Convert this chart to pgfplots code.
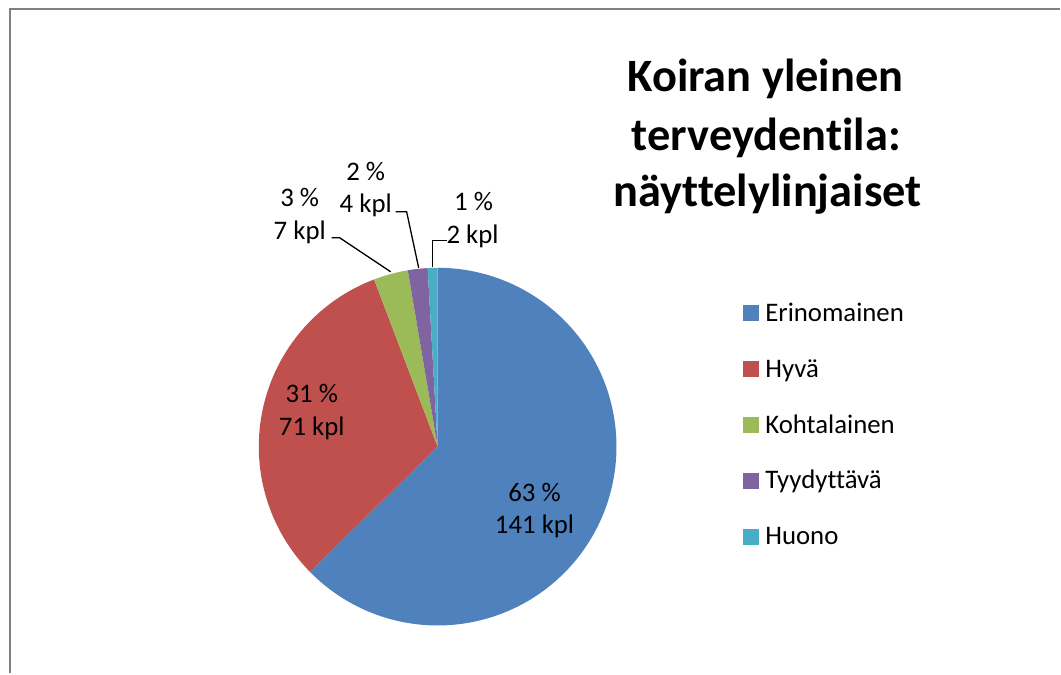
\documentclass[border=0pt]{standalone}
\usepackage{pgfplots}
\pgfplotsset{compat=1.18}
\usepackage{fontspec}
\setmainfont{Carlito}[Ligatures=CommonOff]
\definecolor{cA}{HTML}{4F81BD}
\definecolor{cB}{HTML}{C0504D}
\definecolor{cC}{HTML}{9BBB59}
\definecolor{cD}{HTML}{8064A2}
\definecolor{cE}{HTML}{4BACC6}
\definecolor{frame}{RGB}{128,128,128}
% data (kpl)
\def\vA{141}\def\vB{71}\def\vC{7}\def\vD{4}\def\vE{2}
\pgfmathsetmacro\tot{\vA+\vB+\vC+\vD+\vE}
\pgfmathsetmacro\aA{\vA/\tot*360}
\pgfmathsetmacro\aB{(\vA+\vB)/\tot*360}
\pgfmathsetmacro\aC{(\vA+\vB+\vC)/\tot*360}
\pgfmathsetmacro\aD{(\vA+\vB+\vC+\vD)/\tot*360}
\newcommand\lbl{\fontsize{26.8bp}{32bp}\selectfont}
\newcommand\ttl{\fontsize{46.4bp}{58bp}\selectfont\bfseries}
\begin{document}
\begin{tikzpicture}
\begin{axis}[
  at={(0,0)}, anchor=south west,
  width=1061bp, height=674bp, scale only axis,
  xmin=0, xmax=1061, ymin=0, ymax=674, y dir=reverse,
  axis lines=none, clip=false,
  legend style={at={(axis cs:744,301.4)}, anchor=north west,
    draw=none, fill=none, inner sep=0pt, outer sep=0pt,
    row sep=32.8bp, column sep=6bp,
    font=\lbl, cells={anchor=west},
    nodes={inner sep=0pt, text height=20bp, text depth=3.2bp}},
  legend image code/.code={\fill[#1] (0bp,-8bp) rectangle (16bp,8bp);},
]
\path (axis cs:0,0) rectangle (axis cs:1061,674);
\draw[frame, line width=1.8bp] (axis cs:9.7,674) -- (axis cs:9.7,9) -- (axis cs:1061,9);
\addplot[fill=cA, draw=none, domain=0:\aA, samples=150, variable=\t]
  ({438+179*sin(t)},{447-179*cos(t)}) -- (axis cs:438,447) -- cycle;
\addlegendentry{Erinomainen}
\addplot[fill=cB, draw=none, domain=\aA:\aB, samples=80, variable=\t]
  ({438+179*sin(t)},{447-179*cos(t)}) -- (axis cs:438,447) -- cycle;
\addlegendentry{Hyvä}
\addplot[fill=cC, draw=none, domain=\aB:\aC, samples=10, variable=\t]
  ({438+179*sin(t)},{447-179*cos(t)}) -- (axis cs:438,447) -- cycle;
\addlegendentry{Kohtalainen}
\addplot[fill=cD, draw=none, domain=\aC:\aD, samples=8, variable=\t]
  ({438+179*sin(t)},{447-179*cos(t)}) -- (axis cs:438,447) -- cycle;
\addlegendentry{Tyydyttävä}
\addplot[fill=cE, draw=none, domain=\aD:360, samples=6, variable=\t]
  ({438+179*sin(t)},{447-179*cos(t)}) -- (axis cs:438,447) -- cycle;
\addlegendentry{Huono}
% leader lines
\draw[line width=1.3bp] (axis cs:332,238) -- (axis cs:340,238) -- (axis cs:391,272);
\draw[line width=1.3bp] (axis cs:396,212) -- (axis cs:407,212) -- (axis cs:419,268);
\draw[line width=1.3bp] (axis cs:447,241) -- (axis cs:433,241) -- (axis cs:433,267);
% data labels
\node[anchor=base, inner sep=0pt, font=\lbl] at (axis cs:535,501.7) {63 \%};
\node[anchor=base, inner sep=0pt, font=\lbl] at (axis cs:535,534.3) {141 kpl};
\node[anchor=base, inner sep=0pt, font=\lbl] at (axis cs:312,403.3) {31 \%};
\node[anchor=base, inner sep=0pt, font=\lbl] at (axis cs:312,436) {71 kpl};
\node[anchor=base, inner sep=0pt, font=\lbl] at (axis cs:300,206.7) {3 \%};
\node[anchor=base, inner sep=0pt, font=\lbl] at (axis cs:300,239.3) {7 kpl};
\node[anchor=base, inner sep=0pt, font=\lbl] at (axis cs:366,180.7) {2 \%};
\node[anchor=base, inner sep=0pt, font=\lbl] at (axis cs:366,212.7) {4 kpl};
\node[anchor=base, inner sep=0pt, font=\lbl] at (axis cs:474,210.7) {1 \%};
\node[anchor=base, inner sep=0pt, font=\lbl] at (axis cs:473,243.3) {2 kpl};
% title
\node[anchor=base, inner sep=0pt, font=\ttl] at (axis cs:766,92) {Koiran yleinen};
\node[anchor=base, inner sep=0pt, font=\ttl] at (axis cs:767,151) {terveydentila:};
\node[anchor=base, inner sep=0pt, font=\ttl] at (axis cs:768,206.7) {näyttelylinjaiset};
\end{axis}
\end{tikzpicture}
\end{document}
